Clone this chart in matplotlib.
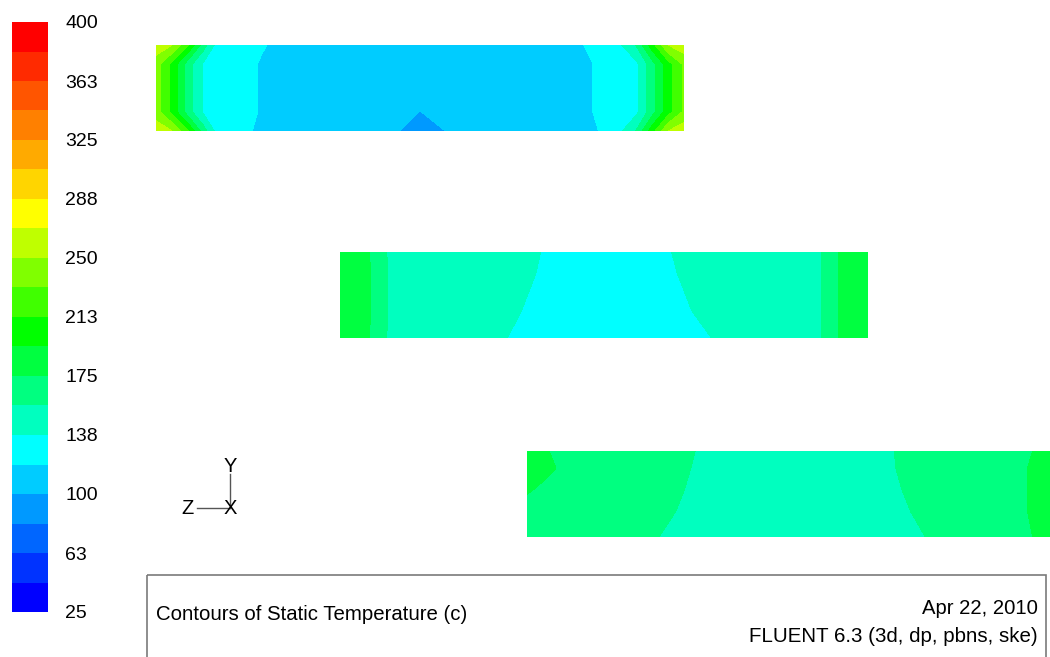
import numpy as np
import matplotlib
matplotlib.use("Agg")
import matplotlib.pyplot as plt
from matplotlib.colors import ListedColormap, BoundaryNorm, hsv_to_rgb
from matplotlib.patches import Rectangle

plt.rcParams['font.family'] = ['Liberation Sans', 'DejaVu Sans']

# ---------------- data ----------------
T_MIN, T_MAX, N_BANDS = 25.0, 400.0, 20
band_hues = [240, 228, 216, 204, 192, 180, 165, 150, 135, 120,
             105, 90, 75, 60, 50, 40, 30, 20, 10, 0]
cbar_ticks = [25, 62.5, 100, 137.5, 175, 212.5, 250, 287.5, 325, 362.5, 400]
cbar_labels = ["25", "63", "100", "138", "175", "213", "250", "288", "325", "363", "400"]

# Block 1 (top pipe section): sample positions along length / height, temperatures (C)
b1_x = [0, 0.03, 0.06, 0.09, 0.12, 0.16, 0.20, 0.30, 0.46, 0.50, 0.55, 0.70, 0.80, 0.84, 0.88, 0.91, 0.94, 0.97, 1.0]
b1_y = [0, 0.22, 0.78, 1.0]
b1_T = [
    [262, 250, 214, 165, 124, 121, 117, 112, 100.5, 88, 100.5, 112, 114, 119, 135, 158, 205, 250, 262],
    [240, 208, 166, 135, 127, 122, 118, 112, 108, 99.5, 108, 112, 116, 120, 126, 134, 168, 205, 235],
    [240, 208, 166, 135, 127, 122, 118, 112, 110, 110, 110, 112, 116, 120, 126, 134, 168, 205, 235],
    [262, 250, 214, 165, 124, 126, 119.5, 112, 110, 110, 110, 112, 117, 124, 136, 158, 205, 250, 262],
]

# Block 2 (middle section)
b2_x = [0, 0.05, 0.10, 0.30, 0.40, 0.50, 0.60, 0.72, 0.90, 0.95, 1.0]
b2_y = [0, 0.32, 0.75, 1.0]
b2_T = [
    [188, 178, 150, 140, 125.3, 128, 130, 138.7, 150, 178, 188],
    [188, 180, 150, 144, 129.2, 128, 132, 142, 150, 178, 188],
    [188, 180, 150, 146.1, 134, 128, 134, 144.8, 150, 178, 188],
    [188, 178, 150, 147.5, 135, 128, 135, 145.7, 150, 178, 188],
]

# Block 3 (bottom section)
b3_x = [0, 0.03, 0.07, 0.22, 0.36, 0.50, 0.64, 0.80, 0.92, 0.96, 1.0]
b3_y = [0, 0.30, 0.55, 0.80, 1.0]
b3_T = [
    [165, 165, 165, 158, 149.8, 147, 146.8, 160, 166, 175.5, 180],
    [168, 166, 165, 164, 146.5, 145, 147.2, 164, 166, 179, 182],
    [177, 172, 166, 164, 150.1, 145, 150.2, 164, 166, 179, 182],
    [182, 180, 172, 164, 152, 147, 151.8, 164, 166, 179, 182],
    [182, 178, 168, 164, 153, 148, 152.1, 164, 166, 175.5, 180],
]

title_text = "Contours of Static Temperature (c)"
date_text = "Apr 22, 2010"
solver_text = "FLUENT 6.3 (3d, dp, pbns, ske)"

# ---------------- layout ----------------
W, H = 1050, 657
fig = plt.figure(figsize=(W / 100, H / 100), dpi=100)
fig.patch.set_facecolor('white')


def rect(x0, y0, x1, y1):
    return [x0 / W, 1 - y1 / H, (x1 - x0) / W, (y1 - y0) / H]


levels = np.linspace(T_MIN, T_MAX, N_BANDS + 1)
colors = hsv_to_rgb(np.array([[h / 360.0, 1.0, 1.0] for h in band_hues]))
cmap = ListedColormap(colors)
norm = BoundaryNorm(levels, cmap.N)

blocks = [
    (b1_x, b1_y, b1_T, (156, 45, 684, 131)),
    (b2_x, b2_y, b2_T, (340, 252, 868, 338)),
    (b3_x, b3_y, b3_T, (527, 451, 1055, 537)),
]
cs = None
for bx, by, bT, (x0, y0, x1, y1) in blocks:
    ax = fig.add_axes(rect(x0, y0, x1, y1))
    cs = ax.contourf(np.array(bx), np.array(by), np.array(bT), levels=levels,
                     cmap=cmap, norm=norm, antialiased=False)
    ax.set_xlim(0, 1)
    ax.set_ylim(0, 1)
    ax.axis('off')

# colorbar
cax = fig.add_axes(rect(12, 22, 48, 612))
cb = fig.colorbar(cs, cax=cax)
cb.outline.set_visible(False)
cb.set_ticks(cbar_ticks)
cb.set_ticklabels(cbar_labels)
cax.minorticks_off()
cax.tick_params(which='both', length=0, pad=12.5, labelsize=14)

# overlay in pixel coordinates
ov = fig.add_axes([0, 0, 1, 1], zorder=-1)
ov.set_xlim(0, W)
ov.set_ylim(H, 0)
ov.axis('off')

ov.add_patch(Rectangle((146.5, 575), 1046 - 146.5, 100, fill=False,
                       edgecolor='#7a7a7a', linewidth=1.2))
ov.text(156, 615, title_text, ha='left', va='center', fontsize=14.7, color='black')
ov.text(1038, 608, date_text, ha='right', va='center', fontsize=14.6, color='black')
ov.text(1038, 636, solver_text, ha='right', va='center', fontsize=14.8, color='black')

# axis triad
ov.plot([230, 230], [474, 508], color='#555555', linewidth=1)
ov.plot([197, 230], [508, 508], color='#555555', linewidth=1)
ov.text(230, 467, 'Y', ha='center', va='center', fontsize=14.5)
ov.text(188, 508, 'Z', ha='center', va='center', fontsize=14.5)
ov.text(230, 509, 'X', ha='center', va='center', fontsize=14.5)

fig.savefig('out.png', dpi=100, facecolor='white')
